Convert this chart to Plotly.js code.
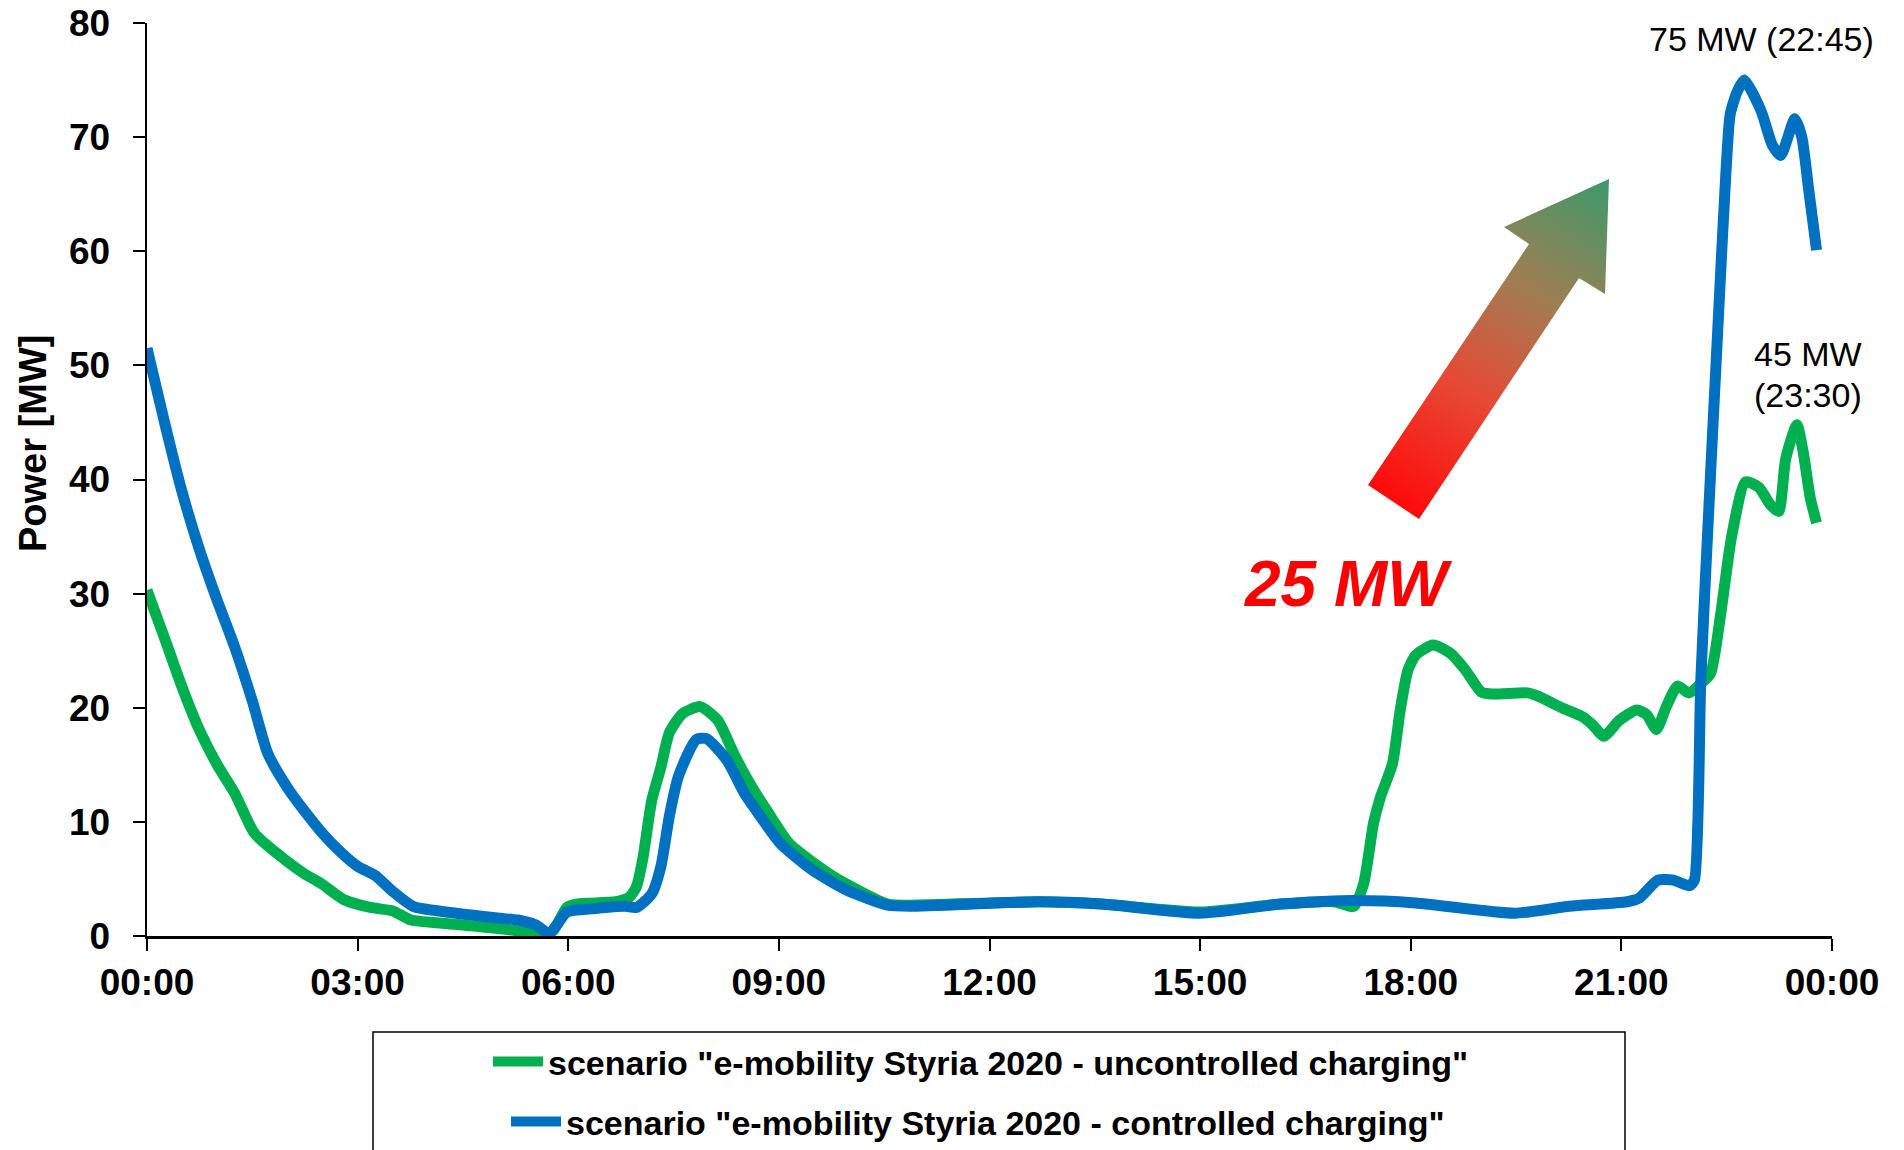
<!DOCTYPE html>
<html>
<head>
<meta charset="utf-8">
<script src="https://cdn.plot.ly/plotly-3.0.1.min.js"></script>
<style>html,body{margin:0;padding:0;background:#fff;}#chart{width:1904px;height:1150px;}</style>
</head>
<body>
<div id="chart"></div>
<script>
// ---- data (hours of day, MW) ----
const hoursUncontrolled = [0,0.25,0.5,0.75,1.0,1.25,1.53,1.85,2.23,2.48,2.80,3.18,3.50,3.76,4.26,5.22,5.66,5.79,5.98,6.11,6.68,6.87,6.97,7.06,7.19,7.32,7.44,7.63,7.88,8.13,8.38,8.64,8.83,9.15,9.78,10.55,10.86,12.71,13.60,15.0,16.14,16.9,17.19,17.33,17.47,17.57,17.74,17.85,17.96,18.07,18.32,18.56,18.78,19.0,19.16,19.66,19.82,20.15,20.45,20.59,20.75,20.97,21.22,21.36,21.50,21.64,21.80,21.96,22.13,22.27,22.41,22.57,22.77,22.96,23.12,23.24,23.34,23.50,23.59,23.69,23.78];
const powerUncontrolled = [30.3,26.1,21.8,18.0,15.0,12.5,9.0,7.25,5.5,4.6,3.2,2.5,2.2,1.4,1.1,0.5,0.1,0.5,2.5,2.8,3.0,3.4,4.3,6.7,11.9,14.8,17.8,19.5,20.1,18.9,15.7,12.8,11.0,8.1,5.2,2.8,2.7,3.0,2.8,2.1,2.8,3.0,2.6,4.6,9.9,12.2,15.1,19.8,23.3,24.6,25.5,24.8,23.3,21.4,21.2,21.3,21.0,20.0,19.2,18.5,17.5,18.9,19.8,19.4,18.1,20.1,21.9,21.3,22.1,23.0,28.0,35.0,39.8,39.3,37.8,37.2,41.8,44.8,42.4,38.4,36.2];

const hoursControlled = [0,0.25,0.5,0.75,1.0,1.25,1.5,1.72,2.0,2.25,2.5,2.75,3.0,3.25,3.50,3.79,4.26,5.03,5.28,5.54,5.73,5.98,6.17,6.81,6.97,7.19,7.32,7.44,7.57,7.82,7.97,8.26,8.51,8.70,9.02,9.47,9.97,10.55,10.86,12.71,13.60,15.0,16.14,17.16,18.07,19.49,20.26,21.08,21.25,21.52,21.74,21.97,22.04,22.13,22.21,22.39,22.49,22.55,22.65,22.75,22.99,23.15,23.27,23.47,23.57,23.67,23.78];
const powerControlled = [51.5,45.0,38.9,33.8,29.4,25.3,20.6,16.0,13.0,10.9,9.0,7.4,6.1,5.3,3.9,2.6,2.1,1.55,1.4,0.96,0.24,2.1,2.3,2.6,2.5,3.7,6.1,10.5,14.0,17.2,17.3,15.4,12.5,10.8,8.1,5.8,4.0,2.7,2.6,3.0,2.8,2.0,2.8,3.1,2.9,2.0,2.6,3.0,3.3,4.9,4.9,4.4,4.9,22.2,33.0,55.2,67.0,72.0,74.0,75.0,72.3,69.3,68.4,71.6,70.0,65.3,60.1];

const tickHours = [0,3,6,9,12,15,18,21,24];
const tickLabels = ["00:00","03:00","06:00","09:00","12:00","15:00","18:00","21:00","00:00"];

const nameUncontrolled = 'scenario "e-mobility Styria 2020 - uncontrolled charging"';
const nameControlled = 'scenario "e-mobility Styria 2020 - controlled charging"';

const FONT = '"Liberation Sans", Arial, Helvetica, sans-serif';

// decorative gradient arrow (SVG)
const arrowSvg = '<svg xmlns="http://www.w3.org/2000/svg" width="260" height="360" viewBox="0 0 260 360">' +
  '<defs><linearGradient id="g" gradientUnits="userSpaceOnUse" x1="33" y1="332" x2="249" y2="9">' +
  '<stop offset="0" stop-color="#FF0A0A"/><stop offset="0.35" stop-color="#E64A36"/>' +
  '<stop offset="0.65" stop-color="#A07E52"/><stop offset="1" stop-color="#3A9A6C"/></linearGradient></defs>' +
  '<polygon fill="url(#g)" points="249,9 245,124 219,108 59,349 8,315 169,74 144,57"/></svg>';
const arrowSrc = 'data:image/svg+xml;charset=utf-8,' + encodeURIComponent(arrowSvg);

const traces = [
  {
    x: hoursUncontrolled, y: powerUncontrolled, type: 'scatter', mode: 'lines',
    name: nameUncontrolled, legend: 'legend',
    line: {color: '#00B050', width: 11, shape: 'spline', smoothing: 0.6}
  },
  {
    x: hoursControlled, y: powerControlled, type: 'scatter', mode: 'lines',
    name: nameControlled, legend: 'legend2',
    line: {color: '#0070C0', width: 11, shape: 'spline', smoothing: 0.6}
  }
];

const legendCommon = {
  xref: 'container', yref: 'container', xanchor: 'left', yanchor: 'middle',
  bgcolor: 'rgba(0,0,0,0)', borderwidth: 0, itemwidth: 50,
  font: {family: FONT, size: 34, color: '#000', weight: 'bold'}
};

const layout = {
  width: 1904, height: 1150,
  paper_bgcolor: '#fff', plot_bgcolor: '#fff',
  margin: {l: 147, r: 72, t: 23, b: 214, autoexpand: false},
  font: {family: FONT, color: '#000'},
  showlegend: true,
  legend: Object.assign({}, legendCommon, {x: 488/1904, y: 1 - 1062/1150}),
  legend2: Object.assign({}, legendCommon, {x: 506/1904, y: 1 - 1122/1150}),
  xaxis: {
    range: [0, 24], tickmode: 'array', tickvals: tickHours, ticktext: tickLabels, tickangle: 0,
    automargin: false,
    showgrid: false, zeroline: false, showline: true, linecolor: '#000', linewidth: 2.5,
    ticks: 'outside', ticklen: 12, tickwidth: 2, tickcolor: '#000',
    ticklabelstandoff: 0,
    tickfont: {family: FONT, size: 37, color: '#000', weight: 'bold'}
  },
  yaxis: {
    range: [0, 80], dtick: 10, tick0: 0, automargin: false,
    showgrid: false, zeroline: false, showline: true, linecolor: '#000', linewidth: 2.5,
    ticks: 'outside', ticklen: 12, tickwidth: 2, tickcolor: '#000',
    ticklabelstandoff: 15,
    tickfont: {family: FONT, size: 37, color: '#000', weight: 'bold'}
  },
  shapes: [
    {type: 'rect', xref: 'paper', yref: 'paper',
     x0: (373-147)/1685, x1: (1625-147)/1685, y0: (936-1032)/913, y1: (936-1160)/913,
     line: {color: '#000', width: 1.5}, fillcolor: 'rgba(0,0,0,0)', layer: 'below'}
  ],
  images: [
    {source: arrowSrc, xref: 'paper', yref: 'paper',
     x: (1360-147)/1685, y: (936-170)/913, sizex: 260/1685, sizey: 360/913,
     xanchor: 'left', yanchor: 'top', sizing: 'stretch', layer: 'above'}
  ],
  annotations: [
    {text: '<b>Power [MW]</b>', textangle: -90, x: (33-147)/1685, y: (936-444)/913, xref: 'paper', yref: 'paper',
     showarrow: false, xanchor: 'center', yanchor: 'middle', font: {family: FONT, size: 38, color: '#000'}},
    {text: '75 MW (22:45)', x: 23.0, y: 78.6, xref: 'x', yref: 'y', showarrow: false,
     xanchor: 'center', yanchor: 'middle', font: {family: FONT, size: 34, color: '#000'}},
    {text: '45 MW', x: 23.66, y: 51.0, xref: 'x', yref: 'y', showarrow: false,
     xanchor: 'center', yanchor: 'middle', font: {family: FONT, size: 34, color: '#000'}},
    {text: '(23:30)', x: 23.66, y: 47.4, xref: 'x', yref: 'y', showarrow: false,
     xanchor: 'center', yanchor: 'middle', font: {family: FONT, size: 34, color: '#000'}},
    {text: '<i>25 MW</i>', x: 17.1, y: 30.85, xref: 'x', yref: 'y', showarrow: false,
     xanchor: 'center', yanchor: 'middle', font: {family: FONT, size: 64, color: '#FF0000', weight: 'bold', style: 'italic'}}
  ]
};

Plotly.newPlot('chart', traces, layout, {displayModeBar: false, staticPlot: true});
</script>
</body>
</html>
